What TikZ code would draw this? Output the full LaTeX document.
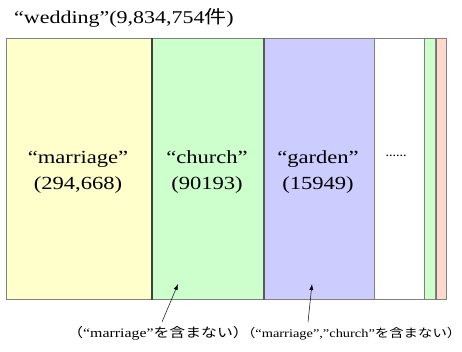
\documentclass[tikz,border=0pt]{standalone}
\usepackage{fontspec}
\usetikzlibrary{arrows.meta}
\setmainfont{Liberation Serif}
\newfontfamily\jp{Noto Sans CJK JP}
\definecolor{cyel}{HTML}{FFFFCC}
\definecolor{cgrn}{HTML}{CCFFCC}
\definecolor{cblu}{HTML}{CCCCFF}
\definecolor{cpnk}{HTML}{FFDACC}
\definecolor{cline}{HTML}{808080}
\newcommand\wider[1]{\scalebox{1.22}[1]{#1}}
\begin{document}
\begin{tikzpicture}[x=1pt,y=-1pt,
  col/.style={draw=cline, line width=1pt, anchor=north west, inner sep=0pt, minimum height=261pt},
  big/.style={font=\fontsize{18.5}{26}\selectfont, align=center},
  pointer/.style={-{Latex[length=6pt,width=4pt]}, line width=0.5pt, black}]
\useasboundingbox (0,0) rectangle (462,352);
% columns
\node[col, fill=cyel, minimum width=145pt] (c1) at (6,38) {};
\node[col, fill=cgrn, minimum width=112pt] (c2) at (151,38) {};
\node[col, fill=cblu, minimum width=111pt] (c3) at (263,38) {};
\node[col, fill=white, minimum width=50pt] (c4) at (374,38) {};
\node[col, fill=cgrn, minimum width=11pt] (c5) at (424,38) {};
\node[col, fill=cpnk, minimum width=11pt] (c6) at (435,38) {};
\draw[draw=black!75, line width=1.2pt] (c1.north east) -- (c1.south east);
\draw[draw=black!65, line width=1.2pt] (c2.north east) -- (c2.south east);
\draw[draw=black!55, line width=1pt] (c5.north east) -- (c5.south east);
% title
\node[font=\fontsize{18}{22}\selectfont] (title) at (124,18) {\wider{“wedding”(9,834,754{\jp 件})}};
% labels
\node[big] (l1) at (78,172) {\wider{“marriage”}\\\wider{(294,668)}};
\node[big] (l2) at (207,172) {\wider{“church”}\\\wider{(90193)}};
\node[big] (l3) at (318,172) {\wider{“garden”}\\\wider{(15949)}};
\node[font=\fontsize{14}{16}\selectfont] (dots) at (396,156) {......};
% bottom notes
\node[font=\fontsize{13}{15}\selectfont] (n1) at (158,333) {\wider{{\jp （}“marriage”{\jp を含まない）}}};
\node[font=\fontsize{11.8}{14}\selectfont, inner sep=0pt, anchor=east] (n2) at (461.5,334) {\wider{{\jp （}“marriage”,”church”{\jp を含まない）}}};
\coordinate (t1) at (162,322);
\coordinate (t2) at (308,322);
\coordinate (a1) at (178,284);
\coordinate (a2) at (312,284);
\draw[pointer] (t1) -- (a1);
\draw[pointer] (t2) -- (a2);
\end{tikzpicture}
\end{document}
